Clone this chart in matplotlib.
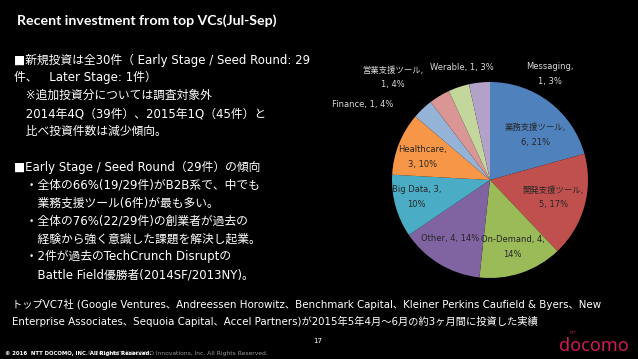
import matplotlib.pyplot as plt
import numpy as np

# données du camembert (nombre de dossiers par catégorie)
categories = ['業務支援ツール', '開発支援ツール', 'On-Demand', 'Other', 'Big Data',
              'Healthcare', 'Finance', '営業支援ツール', 'Werable', 'Messaging']
counts = [6, 5, 4, 4, 3, 3, 1, 1, 1, 1]
pcts = [21, 17, 14, 14, 10, 10, 4, 4, 3, 3]
colors = ['#4F81BD', '#C0504D', '#9BBB59', '#8064A2', '#4BACC6',
          '#F79646', '#95B3D7', '#D99694', '#C3D69B', '#B3A2C7']

# texte des étiquettes (retour à la ligne comme sur la diapo)
label_texts = [
    '業務支援ツール,\n6, 21%', '開発支援ツール,\n5, 17%', 'On-Demand, 4,\n14%',
    'Other, 4, 14%', 'Big Data, 3,\n10%', 'Healthcare,\n3, 10%',
    'Finance, 1, 4%', '営業支援ツール,\n1, 4%', 'Werable, 1, 3%', 'Messaging,\n1, 3%']
# placement des étiquettes : rayon et décalage d'angle par rapport au milieu de la part
label_r = [0.65, 0.67, 0.72, 0.72, 0.77, 0.73, 1.51, 1.44, 1.18, 1.24]
label_dtheta = [-8, 0, 0, -3, -2.5, 3, 16, 12.3, -4.6, -35.7]
inside = [True] * 6 + [False] * 4

left_lines = [
    '■新規投資は全30件（ Early Stage / Seed Round: 29',
    '件、　Later Stage: 1件）',
    '　※追加投資分については調査対象外',
    '　2014年4Q（39件）、2015年1Q（45件）と',
    '　比べ投資件数は減少傾向。',
    '',
    '■Early Stage / Seed Round（29件）の傾向',
    '　・全体の66%(19/29件)がB2B系で、中でも',
    '　　業務支援ツール(6件)が最も多い。',
    '　・全体の76%(22/29件)の創業者が過去の',
    '　　経験から強く意識した課題を解決し起業。',
    '　・2件が過去のTechCrunch Disruptの',
    '　　Battle Field優勝者(2014SF/2013NY)。',
]
footer = ('トップVC7社 (Google Ventures、Andreessen Horowitz、Benchmark Capital、'
          'Kleiner Perkins Caufield & Byers、New\n'
          'Enterprise Associates、Sequoia Capital、Accel Partners)が2015年5年4月～6月の約3ヶ月間に投資した実績')

# DejaVu pour le latin (proche de Meiryo), Noto CJK pour le japonais
jp = ['DejaVu Sans', 'Noto Sans CJK JP']
W, H = 638, 359

fig = plt.figure(figsize=(W / 100, H / 100), dpi=100, facecolor='black')


def px(x, y):
    # conversion pixels -> coordonnées figure
    return x / W, 1 - y / H


fig.text(*px(17, 21), 'Recent investment from top VCs(Jul-Sep)', color='white',
         fontsize=10.2, fontweight='bold', family=['Lato', 'DejaVu Sans'], va='center')

y0 = 60
for i, line in enumerate(left_lines):
    fig.text(*px(14, y0 + i * 17.9), line, color='white', fontsize=8.5,
             family=jp, va='center')

fig.text(*px(12, 313), footer, color='white', fontsize=7.4, family=jp,
         va='center', linespacing=1.6)
fig.text(*px(318, 341), '17', color='white', fontsize=5, va='center', ha='center')
# deux mentions de copyright superposées, comme sur la diapo d'origine
fig.text(*px(87, 353), '© 2015 NTT DOCOMO Innovations, Inc. All Rights Reserved.',
         color='#9a9a9a', fontsize=4.3, va='center', family=jp)
fig.text(*px(5, 353), '© 2016  NTT DOCOMO, INC. All Rights Reserved.',
         color='white', fontsize=3.9, fontweight='bold', va='center', family=jp)
fig.text(*px(594, 346), 'docomo', color='#D0185A', fontsize=13, fontweight='bold',
         ha='center', va='center', family=['Noto Sans', 'DejaVu Sans'])
fig.text(*px(573, 333), 'NTT', color='#D0185A', fontsize=2.5, ha='center', va='center')

# camembert
R = 98
ax = fig.add_axes([(490 - R) / W, (H - 180 - R) / H, 2 * R / W, 2 * R / H])
ax.set_facecolor('black')
wedges, _ = ax.pie(counts, colors=colors, startangle=90, counterclock=False,
                   wedgeprops=dict(linewidth=0))
ax.set_xlim(-1, 1)
ax.set_ylim(-1, 1)
ax.set_aspect('equal')
ax.axis('off')

for w, txt, r, dt, ins in zip(wedges, label_texts, label_r, label_dtheta, inside):
    mid = np.deg2rad((w.theta1 + w.theta2) / 2 + dt)
    ax.text(r * np.cos(mid), r * np.sin(mid), txt, ha='center', va='center',
            fontsize=6.0, color='#262626' if ins else '#d9d9d9', family=jp,
            linespacing=1.8, clip_on=False)

plt.savefig('out.png', dpi=100, facecolor='black')
